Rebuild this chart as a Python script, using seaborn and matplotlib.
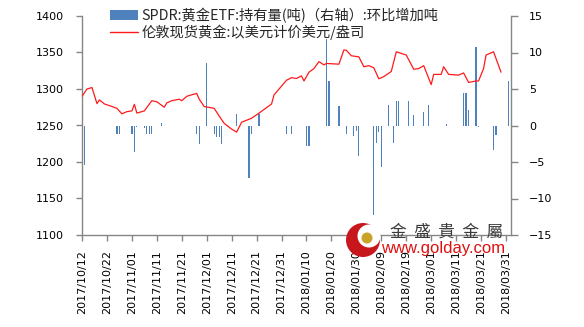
import matplotlib
matplotlib.use('Agg')
import matplotlib.pyplot as plt
import matplotlib.dates as mdates
import seaborn as sns
import pandas as pd
from matplotlib.patches import Circle, Rectangle
from matplotlib.lines import Line2D

# ---------------- data ----------------
price_dates = [
    '2017-10-12', '2017-10-14', '2017-10-16', '2017-10-18', '2017-10-19', '2017-10-21',
    '2017-10-24', '2017-10-26', '2017-10-28', '2017-10-30', '2017-11-01', '2017-11-02',
    '2017-11-03', '2017-11-06', '2017-11-09', '2017-11-11', '2017-11-14', '2017-11-15',
    '2017-11-17', '2017-11-20', '2017-11-21', '2017-11-23', '2017-11-27', '2017-11-28',
    '2017-11-30', '2017-12-04', '2017-12-06', '2017-12-08', '2017-12-11', '2017-12-13',
    '2017-12-15', '2017-12-19', '2017-12-22', '2017-12-27', '2017-12-28', '2018-01-02',
    '2018-01-04', '2018-01-06', '2018-01-08', '2018-01-09', '2018-01-11', '2018-01-13',
    '2018-01-15', '2018-01-17', '2018-01-18', '2018-01-23', '2018-01-25', '2018-01-26',
    '2018-01-28', '2018-01-31', '2018-02-02', '2018-02-04', '2018-02-06', '2018-02-08',
    '2018-02-10', '2018-02-13', '2018-02-15', '2018-02-19', '2018-02-22', '2018-02-24',
    '2018-02-26', '2018-03-01', '2018-03-02', '2018-03-05', '2018-03-06', '2018-03-08',
    '2018-03-12', '2018-03-14', '2018-03-16', '2018-03-19', '2018-03-20', '2018-03-22',
    '2018-03-23', '2018-03-26', '2018-03-29',
]
price_values = [
    1290, 1300, 1302, 1280, 1285, 1279.5,
    1276, 1273.5, 1266, 1269, 1270, 1279,
    1267, 1270, 1284, 1282.5, 1275, 1281,
    1284, 1286, 1284, 1290, 1294, 1286,
    1276, 1273.5, 1263, 1253, 1245, 1241,
    1254.5, 1260, 1267, 1279.5, 1292, 1312,
    1315.5, 1314.5, 1318, 1311, 1323, 1328,
    1337.5, 1333, 1335, 1334, 1353.5, 1353,
    1345.5, 1344, 1330.5, 1332, 1329, 1314,
    1317, 1324, 1351, 1346.5, 1327, 1328,
    1332, 1306, 1320, 1320, 1330.5, 1320,
    1319, 1322, 1309, 1311, 1311, 1328,
    1346.5, 1351, 1323,
]

bar_dates = [
    '2017-10-13', '2017-10-26', '2017-10-27', '2017-11-01', '2017-11-02', '2017-11-03',
    '2017-11-06', '2017-11-07', '2017-11-08', '2017-11-09', '2017-11-13', '2017-11-27',
    '2017-11-28', '2017-12-01', '2017-12-04', '2017-12-05', '2017-12-06', '2017-12-07',
    '2017-12-13', '2017-12-18', '2017-12-19', '2017-12-22', '2018-01-02', '2018-01-04',
    '2018-01-10', '2018-01-11', '2018-01-18', '2018-01-19', '2018-01-23', '2018-01-26',
    '2018-01-29', '2018-01-30', '2018-01-31', '2018-02-06', '2018-02-07', '2018-02-08',
    '2018-02-09', '2018-02-12', '2018-02-14', '2018-02-15', '2018-02-16', '2018-02-20',
    '2018-02-22', '2018-02-26', '2018-02-28', '2018-03-07', '2018-03-14', '2018-03-15',
    '2018-03-16', '2018-03-19', '2018-03-20', '2018-03-26', '2018-03-27', '2018-04-01',
]
bar_values = [
    -5.4, -1.1, -1.1, -1.1, -3.6, -0.2,
    -0.3, -1.1, -1.1, -1.1, 0.3, -1.1,
    -2.6, 8.5, -1.1, -1.6, -1.6, -2.6,
    1.6, -7.2, -1.1, 1.6, -1.1, -1.1,
    -2.8, -2.8, 11.9, 6.1, 2.7, -1.2,
    -1.5, -0.8, -4.2, -12.2, -2.4, -0.9,
    -5.7, 2.8, -2.4, 3.3, 3.3, 3.3,
    1.5, 1.8, 2.8, 0.15, 4.5, 4.5,
    2.1, 10.7, -0.2, -3.3, -1.3, 6.1,
]

legend_labels = ['SPDR:黄金ETF:持有量(吨)（右轴）:环比增加吨',
                 '伦敦现货黄金:以美元计价美元/盎司']
left_ticks = [1100, 1150, 1200, 1250, 1300, 1350, 1400]
right_ticks = [-15, -10, -5, 0, 5, 10, 15]
x_tick_start = '2017-10-12'
x_tick_end = '2018-03-31'
x_min, x_max = '2017-10-12', '2018-04-02'
watermark_cn = '金  盛  貴  金  屬'
watermark_url = 'www.golday.com'

# ---------------- style ----------------
sns.set_style('ticks')
plt.rcParams['font.family'] = ['DejaVu Sans', 'Noto Sans CJK SC']
cjk = ['Noto Sans CJK SC', 'DejaVu Sans']
spine_col = '#868686'
bar_col = '#4F81BD'
line_col = '#FF1A1A'

W, H = 584, 327
fig = plt.figure(figsize=(W / 100, H / 100), dpi=100)
ax = fig.add_axes([82 / W, 1 - 235 / H, (511 - 82) / W, (235 - 16) / H])
ax2 = ax.twinx()

df_p = pd.DataFrame({'date': pd.to_datetime(price_dates), 'price': price_values})
df_b = pd.DataFrame({'date': pd.to_datetime(bar_dates), 'chg': bar_values})

ax2.bar(df_b['date'], df_b['chg'], width=0.5, color=bar_col, linewidth=0, zorder=1)
sns.lineplot(data=df_p, x='date', y='price', ax=ax, color=line_col, linewidth=0.9,
             legend=False, zorder=3)
ax.set_zorder(ax2.get_zorder() + 1)
ax.patch.set_visible(False)

ax.set_xlim(pd.Timestamp(x_min), pd.Timestamp(x_max))
ax.set_ylim(1100, 1400)
ax.set_yticks(left_ticks)
ax2.set_ylim(-15, 15)
ax2.set_yticks(right_ticks)
ax.set_xticks(pd.date_range(x_tick_start, x_tick_end, freq='10D'))
ax.xaxis.set_major_formatter(mdates.DateFormatter('%Y/%m/%d'))
ax.set_xlabel('')
ax.set_ylabel('')
ax2.set_ylabel('')

for a in (ax, ax2):
    a.spines['top'].set_visible(False)
    for s in a.spines.values():
        s.set_color(spine_col)
        s.set_linewidth(1.0)
ax2.spines['left'].set_visible(False)
ax2.spines['bottom'].set_visible(False)
ax.spines['right'].set_visible(False)

ax.tick_params(axis='y', left=True, direction='out', length=4, width=1,
               color=spine_col, labelsize=8, pad=9, labelcolor='black')
ax.tick_params(axis='x', bottom=True, direction='out', length=4, width=1,
               color=spine_col, labelsize=8, pad=7, labelcolor='black', rotation=90)
ax2.tick_params(axis='y', right=True, direction='out', length=5, width=1,
                color=spine_col, labelsize=8, pad=8, labelcolor='black')
ax.grid(False)
ax2.grid(False)

# legend
handles = [Rectangle((0, 0), 1, 1, facecolor=bar_col, edgecolor='none'),
           Line2D([0], [0], color=line_col, linewidth=1.0)]
fig.legend(handles, legend_labels, loc='upper left',
           bbox_to_anchor=(110 / W, 1 - 8 / H), frameon=False, borderpad=0,
           borderaxespad=0, handlelength=1.95, handletextpad=0.25,
           labelspacing=0.12, prop={'family': cjk, 'size': 10.3})

# watermark (logo + text)
ov = fig.add_axes([0, 0, 1, 1], zorder=10)
ov.set_xlim(0, W)
ov.set_ylim(H, 0)
ov.axis('off')
ov.add_patch(Circle((363, 240), 17, color='#C8161D', lw=0))
ov.add_patch(Circle((369, 236), 11.5, color='white', lw=0))
ov.add_patch(Circle((367, 238), 5.5, color='#C9A227', lw=0))
ov.text(447, 232, watermark_cn, ha='center', va='center', fontsize=12,
        color='#3A3A3A', family=['Noto Sans CJK TC', 'DejaVu Sans'])
ov.text(443, 249, watermark_url, ha='center', va='center', fontsize=12,
        color='#E01010', family=['Liberation Sans', 'DejaVu Sans'])

fig.savefig('out.png', dpi=100)
